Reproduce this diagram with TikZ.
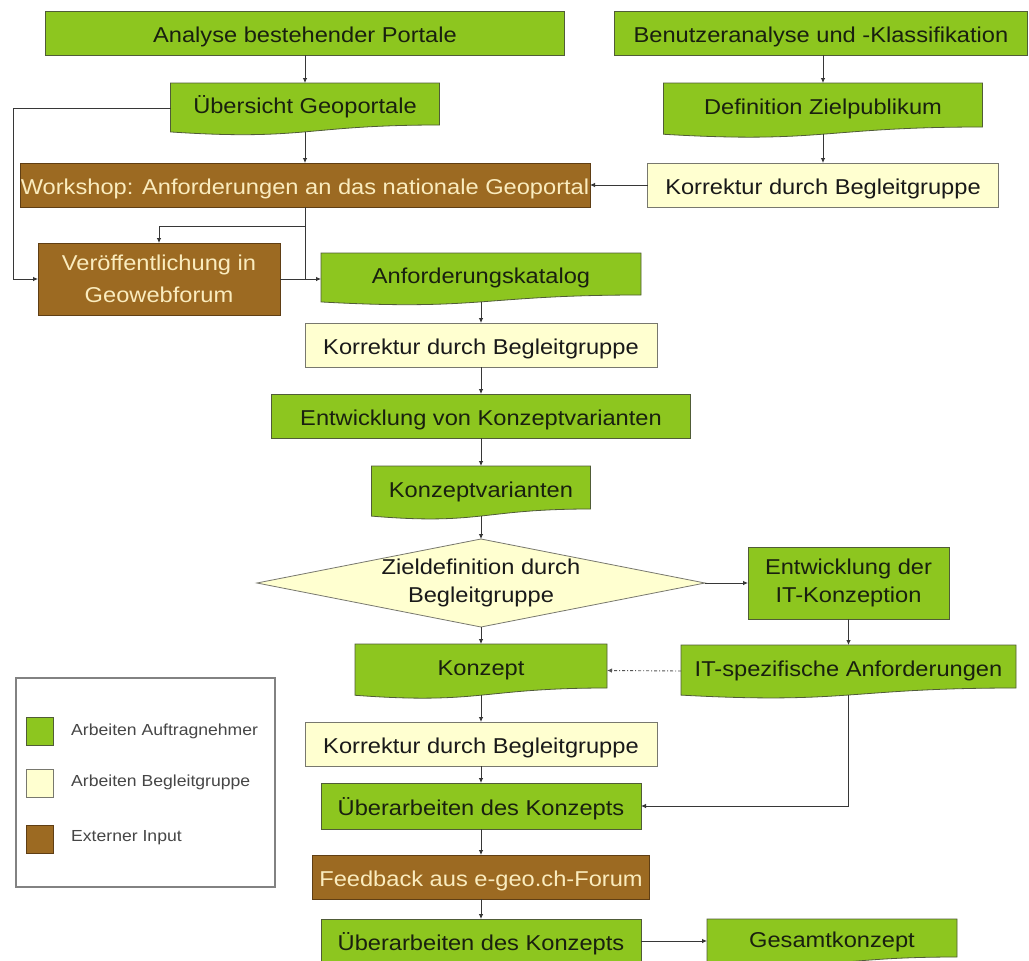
\documentclass[tikz,border=0pt]{standalone}
\usepackage{fontspec}
\setmainfont{Liberation Sans}[FakeStretch=1.1]
\usetikzlibrary{arrows.meta,backgrounds,calc,shapes.geometric}
\definecolor{grn}{RGB}{141,198,31}
\definecolor{gbd}{RGB}{80,92,55}
\definecolor{gtx}{RGB}{25,32,15}
\definecolor{brn}{RGB}{156,106,34}
\definecolor{bbd}{RGB}{95,62,20}
\definecolor{btx}{RGB}{250,236,190}
\definecolor{crm}{RGB}{255,255,208}
\definecolor{cbd}{RGB}{120,120,110}
\definecolor{ctx}{RGB}{25,25,25}
\definecolor{ln}{RGB}{55,55,55}
\definecolor{lgb}{RGB}{130,130,130}
\definecolor{ltx}{RGB}{70,70,70}
\newcommand\docbg[1]{%
  \begin{pgfonlayer}{background}
  \path[docfill] let \p1=(#1.north west), \p2=(#1.south east) in
    (\p1) -- (\x2,\y1) -- (\p2)
    .. controls ({(\x1+\x2)/2},\y2) and ({(\x1+\x2)/2},{\y2-0.38*(\y1-\y2)}) ..
    (\x1,{\y2-0.165*(\y1-\y2)}) -- cycle;
  \end{pgfonlayer}}
\begin{document}
\begin{tikzpicture}[x=1pt,y=-1pt,
  box/.style={rectangle, inner sep=0pt, outer sep=0pt, align=center,
    font=\fontsize{21.5}{28}\selectfont},
  one/.style={text height=22pt, text depth=3pt},
  gbox/.style={box, fill=grn, draw=gbd, line width=0.8pt, text=gtx},
  bbox/.style={box, fill=brn, draw=bbd, line width=0.8pt, text=btx},
  cbox/.style={box, fill=crm, draw=cbd, line width=0.8pt, text=ctx},
  doc/.style={box, one, text=gtx},
  docfill/.style={fill=grn, draw=gbd, line width=0.8pt},
  dia/.style={diamond, aspect=5.1, inner sep=0pt, outer sep=0pt, align=center,
    font=\fontsize{21.5}{28}\selectfont, fill=crm, draw=cbd, line width=0.8pt, text=ctx},
  arr/.style={draw=ln, line width=0.8pt, -{Latex[length=5pt,width=4.5pt]}},
  lnk/.style={draw=ln, line width=0.8pt},
  dots/.style={draw=ln!85, line width=0.9pt, dash pattern=on 3pt off 2pt on 1pt off 2pt, -{Latex[length=5pt,width=4.5pt]}},
  lsq/.style={rectangle, minimum width=27pt, minimum height=28pt, inner sep=0pt, line width=0.8pt},
  ltext/.style={anchor=west, inner sep=0pt, text=ltx, font=\fontsize{16}{18}\selectfont}
]
\useasboundingbox (0,0) rectangle (1029,961);
\begin{pgfonlayer}{background}\fill[white] (0,0) rectangle (1029,961);\end{pgfonlayer}

% nodes
\node[gbox, one, minimum width=519pt, minimum height=44pt] (ana) at (305,33) {Analyse bestehender Portale};
\node[gbox, one, minimum width=413pt, minimum height=44pt] (ben) at (821,33) {Benutzeranalyse und -Klassifikation};
\node[doc, minimum width=269pt, minimum height=42pt] (ueb) at (305,104) {Übersicht Geoportale};
\node[doc, minimum width=319pt, minimum height=44pt] (def) at (823,105) {Definition Zielpublikum};
\node[bbox, one, minimum width=570pt, minimum height=44pt] (ws) at (305,185) {Workshop: Anforderungen an das nationale Geoportal};
\node[cbox, one, minimum width=351pt, minimum height=44pt] (kor1) at (823,185) {Korrektur durch Begleitgruppe};
\node[bbox, minimum width=242pt, minimum height=72pt] (ver) at (159,279) {Veröffentlichung in\\[4pt]Geowebforum};
\node[doc, minimum width=320pt, minimum height=42pt] (akat) at (481,274) {Anforderungskatalog};
\node[cbox, one, minimum width=352pt, minimum height=44pt] (kor2) at (481,345) {Korrektur durch Begleitgruppe};
\node[gbox, one, minimum width=419pt, minimum height=44pt] (ekv) at (481,416) {Entwicklung von Konzeptvarianten};
\node[doc, minimum width=219pt, minimum height=43pt] (kv) at (481,487.5) {Konzeptvarianten};
\node[dia, minimum width=448pt, minimum height=88pt] (zd) at (481,583) {Zieldefinition durch\\Begleitgruppe};
\node[gbox, minimum width=201pt, minimum height=72pt] (eit) at (848.5,583) {Entwicklung der\\IT-Konzeption};
\node[doc, minimum width=252pt, minimum height=44pt] (kon) at (481,666) {Konzept};
\node[doc, minimum width=335pt, minimum height=43pt] (its) at (848.5,666.5) {IT-spezifische Anforderungen};
\node[cbox, one, minimum width=352pt, minimum height=44pt] (kor3) at (481,744) {Korrektur durch Begleitgruppe};
\node[gbox, one, minimum width=320pt, minimum height=46pt] (ub1) at (481,806) {Überarbeiten des Konzepts};
\node[bbox, one, minimum width=337pt, minimum height=44pt] (fb) at (481,877) {Feedback aus e-geo.ch-Forum};
\node[gbox, one, minimum width=320pt, minimum height=44pt] (ub2) at (481,941) {Überarbeiten des Konzepts};
\node[doc, minimum width=250pt, minimum height=38pt] (gk) at (832,938) {Gesamtkonzept};

\docbg{ueb}
\docbg{def}
\docbg{akat}
\docbg{kv}
\docbg{kon}
\docbg{its}
\docbg{gk}

% connectors
\draw[arr] (ana.south) -- (ueb.north);
\draw[arr, shorten <=7pt] (ueb.south) -- (ws.north);
\draw[arr] (ben.south -| def.north) -- (def.north);
\draw[arr, shorten <=7pt] (def.south) -- (kor1.north);
\draw[arr] (kor1.west) -- (ws.east);
\draw[arr] ($(ueb.west)+(0,4)$) -- ++(-157,0) |- (ver.west);
\draw[arr] (ws.south) -- ++(0,19) -| (ver.north);
\draw[lnk] (ws.south) -- (ws.south |- ver.east);
\draw[arr] (ver.east) -- (akat.west |- ver.east);
\draw[arr, shorten <=7pt] (akat.south) -- (kor2.north);
\draw[arr] (kor2.south) -- (ekv.north);
\draw[arr] (ekv.south) -- (kv.north);
\draw[arr, shorten <=7pt] (kv.south) -- (zd.north);
\draw[arr] (zd.east) -- (eit.west);
\draw[arr] (zd.south) -- (kon.north);
\draw[arr] (eit.south) -- (its.north);
\draw[dots] ($(its.west)+(0,4.5)$) -- ($(kon.east)+(0,4.5)$);
\draw[arr, shorten <=7pt] (kon.south) -- (kor3.north);
\draw[arr] (kor3.south) -- (ub1.north);
\draw[arr, shorten <=7pt] (its.south) |- (ub1.east);
\draw[arr] (ub1.south) -- (fb.north);
\draw[arr] (fb.south) -- (ub2.north);
\draw[arr] (ub2.east) -- (gk.west |- ub2.east);

% legend
\node[draw=lgb, line width=1.5pt, minimum width=259pt, minimum height=209pt, inner sep=0pt] (leg) at (145.5,782.5) {};
\node[lsq, fill=grn, draw=gbd] (l1) at (39.5,731.5) {};
\node[lsq, fill=crm, draw=cbd] (l2) at (39.5,783) {};
\node[lsq, fill=brn, draw=bbd] (l3) at (39.5,839) {};
\node[ltext] (t1) at (71,731) {Arbeiten Auftragnehmer};
\node[ltext] (t2) at (71,782) {Arbeiten Begleitgruppe};
\node[ltext] (t3) at (71,838) {Externer Input};
\end{tikzpicture}
\end{document}
